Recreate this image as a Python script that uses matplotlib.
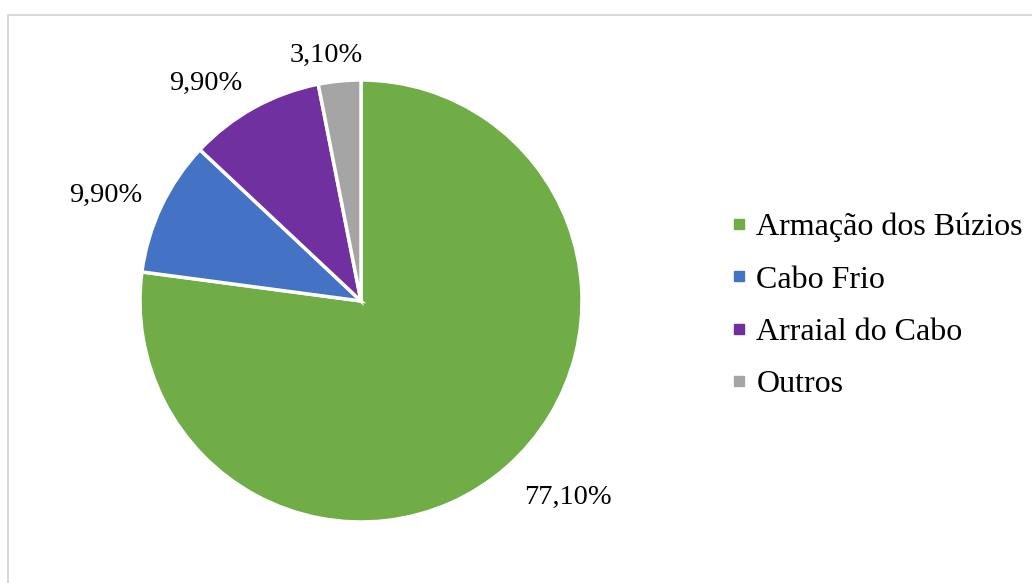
import matplotlib
matplotlib.use("Agg")
import matplotlib.pyplot as plt
import numpy as np
from matplotlib.lines import Line2D
from matplotlib.patches import Rectangle

categories = ["Armação dos Búzios", "Cabo Frio", "Arraial do Cabo", "Outros"]
values = [77.1, 9.9, 9.9, 3.1]
labels = ["77,10%", "9,90%", "9,90%", "3,10%"]
colors = ["#70AD47", "#4472C4", "#7030A0", "#A5A5A5"]

plt.rcParams['font.family'] = ['Liberation Serif', 'DejaVu Serif']

W, H = 1032, 583
fig = plt.figure(figsize=(W / 100, H / 100), dpi=100)

# chart border
fig.patches.append(Rectangle((8 / W, -0.1), 1.2, 1.1 - 15 / H, transform=fig.transFigure,
                             fill=False, edgecolor="#d9d9d9", linewidth=1.5))

cx, cy, r = 361, 301, 221
ax = fig.add_axes([(cx - r) / W, (H - cy - r) / H, 2 * r / W, 2 * r / H])
wedges, _ = ax.pie(values, colors=colors, startangle=90, counterclock=False,
                   wedgeprops=dict(edgecolor="white", linewidth=2.5))
ax.set_xlim(-1, 1)
ax.set_ylim(-1, 1)
ax.set_aspect("equal")
ax.axis("off")

# label placement (radial distance and angular nudge per label)
dists = [1.29, 1.25, 1.21, 1.12]
nudges = [5.3, 3.0, 6.5, 2.4]
for w, lab, d, n in zip(wedges, labels, dists, nudges):
    ang = np.deg2rad((w.theta1 + w.theta2) / 2 + n)
    ax.text(d * np.cos(ang), d * np.sin(ang), lab, ha="center", va="center",
            fontsize=20.5, color="black")

handles = [Line2D([0], [0], marker="s", linestyle="none", markersize=7.5,
                  markerfacecolor=c, markeredgecolor=c) for c in colors]
fig.legend(handles, categories, loc="center left", bbox_to_anchor=(718 / W, 1 - 306 / H),
           frameon=False, fontsize=23, handlelength=0.5, handletextpad=0.3,
           labelspacing=0.72, borderaxespad=0)

fig.savefig("out.png", dpi=100)
